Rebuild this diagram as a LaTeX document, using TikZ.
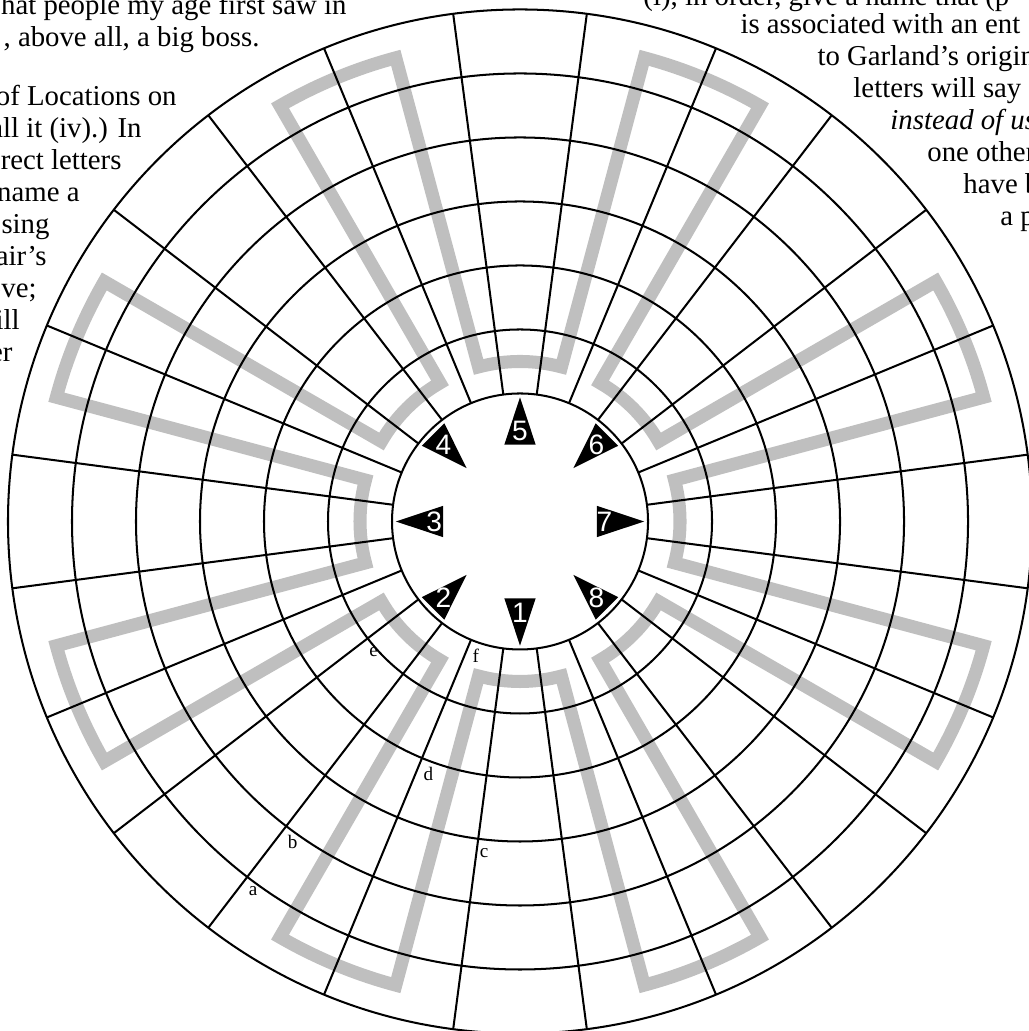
\documentclass[tikz,border=0pt]{standalone}
\usepackage{fontspec}
\setmainfont{Liberation Serif}
\setsansfont{Liberation Sans}

\tikzset{
  ring/.style={draw=black,line width=0.9pt},
  meander/.style={draw=black!25,line width=5.8pt,line join=miter},
  marker/.style={fill=black},
  marker num/.style={text=white,inner sep=0pt,font=\sffamily\fontsize{12.5}{14}\selectfont},
  cell label/.style={anchor=north west,inner sep=0pt,xshift=0.5pt,yshift=-4pt,font=\fontsize{8.5}{10}\selectfont},
  page text/.style={inner sep=0pt,font=\fontsize{12.8}{14.2}\selectfont},
}

\begin{document}
\begin{tikzpicture}
\useasboundingbox (-8.125,-7.961) rectangle (7.9375,8.148);
% page text round the figure
\node[page text,anchor=base east] (tl1) at (-2.703,7.914) {hat people my age first saw in};
\node[page text,anchor=base east] (tl2) at (-4.063,7.414) {, above all, a big boss.};
\node[page text,anchor=base east] (tl3) at (-5.359,6.500) {of Locations on};
\node[page text,anchor=base east] (tl4) at (-5.906,6.000) {all it (iv).) In};
\node[page text,anchor=base east] (tl5) at (-6.219,5.500) {rect letters};
\node[page text,anchor=base east] (tl6) at (-6.875,5.000) {name a};
\node[page text,anchor=base east] (tl7) at (-7.344,4.500) {sing};
\node[page text,anchor=base east] (tl8) at (-7.391,4.000) {air's};
\node[page text,anchor=base east] (tl9) at (-7.547,3.500) {ove;};
\node[page text,anchor=base east] (tl10) at (-7.813,3.000) {ill};
\node[page text,anchor=base east] (tl11) at (-7.922,2.500) {er};
\node[page text,anchor=base west] (tr1) at (1.922,8.055) {(i), in order, give a name that (p};
\node[page text,anchor=base west] (tr2) at (3.438,7.617) {is associated with an ent};
\node[page text,anchor=base west] (tr3) at (4.641,7.117) {to Garland's origin};
\node[page text,anchor=base west] (tr4) at (5.203,6.617) {letters will say};
\node[page text,anchor=base west] (tr5) at (5.781,6.117) {\itshape instead of us};
\node[page text,anchor=base west] (tr6) at (6.359,5.617) {one other};
\node[page text,anchor=base west] (tr7) at (6.922,5.117) {have b};
\node[page text,anchor=base west] (tr8) at (7.500,4.617) {a p};
% grey key pattern, under the grid
\draw[meander] (-15:2.5) arc[start angle=-15,end angle=15,radius=2.5] -- (15:7.5) arc[start angle=15,end angle=30,radius=7.5] -- (30:2.5)
  arc[start angle=30,end angle=60,radius=2.5] -- (60:7.5) arc[start angle=60,end angle=75,radius=7.5] -- (75:2.5)
  arc[start angle=75,end angle=105,radius=2.5] -- (105:7.5) arc[start angle=105,end angle=120,radius=7.5] -- (120:2.5)
  arc[start angle=120,end angle=150,radius=2.5] -- (150:7.5) arc[start angle=150,end angle=165,radius=7.5] -- (165:2.5)
  arc[start angle=165,end angle=195,radius=2.5] -- (195:7.5) arc[start angle=195,end angle=210,radius=7.5] -- (210:2.5)
  arc[start angle=210,end angle=240,radius=2.5] -- (240:7.5) arc[start angle=240,end angle=255,radius=7.5] -- (255:2.5)
  arc[start angle=255,end angle=285,radius=2.5] -- (285:7.5) arc[start angle=285,end angle=300,radius=7.5] -- (300:2.5)
  arc[start angle=300,end angle=330,radius=2.5] -- (330:7.5) arc[start angle=330,end angle=345,radius=7.5] -- cycle;
% rings
\draw[ring] (0,0) circle (2) (0,0) circle (3) (0,0) circle (4) (0,0) circle (5) (0,0) circle (6) (0,0) circle (7) (0,0) circle (8);
% spokes
\draw[ring] (7.5:2) -- (7.5:8) (22.5:2) -- (22.5:8) (37.5:2) -- (37.5:8) (52.5:2) -- (52.5:8) (67.5:2) -- (67.5:8) (82.5:2) -- (82.5:8);
\draw[ring] (97.5:2) -- (97.5:8) (112.5:2) -- (112.5:8) (127.5:2) -- (127.5:8) (142.5:2) -- (142.5:8) (157.5:2) -- (157.5:8) (172.5:2) -- (172.5:8);
\draw[ring] (187.5:2) -- (187.5:8) (202.5:2) -- (202.5:8) (217.5:2) -- (217.5:8) (232.5:2) -- (232.5:8) (247.5:2) -- (247.5:8) (262.5:2) -- (262.5:8);
\draw[ring] (277.5:2) -- (277.5:8) (292.5:2) -- (292.5:8) (307.5:2) -- (307.5:8) (322.5:2) -- (322.5:8) (337.5:2) -- (337.5:8) (352.5:2) -- (352.5:8);
% markers: odd ones point out, even ones point in
\begin{scope}[rotate=270]
  \fill[marker] (1.200,0.245) -- (1.200,-0.245) -- (1.940,0) -- cycle;
  \node[marker num] (n1) at (1.430,0) {1};
\end{scope}
\begin{scope}[rotate=225]
  \fill[marker] (1.920,0.248) -- (1.920,-0.248) -- (1.180,0) -- cycle;
  \node[marker num] (n2) at (1.690,0) {2};
\end{scope}
\begin{scope}[rotate=180]
  \fill[marker] (1.200,0.245) -- (1.200,-0.245) -- (1.940,0) -- cycle;
  \node[marker num] (n3) at (1.340,0) {3};
\end{scope}
\begin{scope}[rotate=135]
  \fill[marker] (1.920,0.248) -- (1.920,-0.248) -- (1.180,0) -- cycle;
  \node[marker num] (n4) at (1.690,0) {4};
\end{scope}
\begin{scope}[rotate=90]
  \fill[marker] (1.200,0.245) -- (1.200,-0.245) -- (1.940,0) -- cycle;
  \node[marker num] (n5) at (1.410,0) {5};
\end{scope}
\begin{scope}[rotate=45]
  \fill[marker] (1.920,0.248) -- (1.920,-0.248) -- (1.180,0) -- cycle;
  \node[marker num] (n6) at (1.690,0) {6};
\end{scope}
\begin{scope}[rotate=0]
  \fill[marker] (1.200,0.245) -- (1.200,-0.245) -- (1.940,0) -- cycle;
  \node[marker num] (n7) at (1.320,0) {7};
\end{scope}
\begin{scope}[rotate=315]
  \fill[marker] (1.920,0.248) -- (1.920,-0.248) -- (1.180,0) -- cycle;
  \node[marker num] (n8) at (1.690,0) {8};
\end{scope}
% letters at grid crossings
\node[cell label] (la) at (232.5:7) {a};
\node[cell label] (lb) at (232.5:6) {b};
\node[cell label] (lc) at (262.5:5) {c};
\node[cell label] (ld) at (247.5:4) {d};
\node[cell label] (le) at (217.5:3) {e};
\node[cell label] (lf) at (247.5:2) {f};
\end{tikzpicture}
\end{document}
